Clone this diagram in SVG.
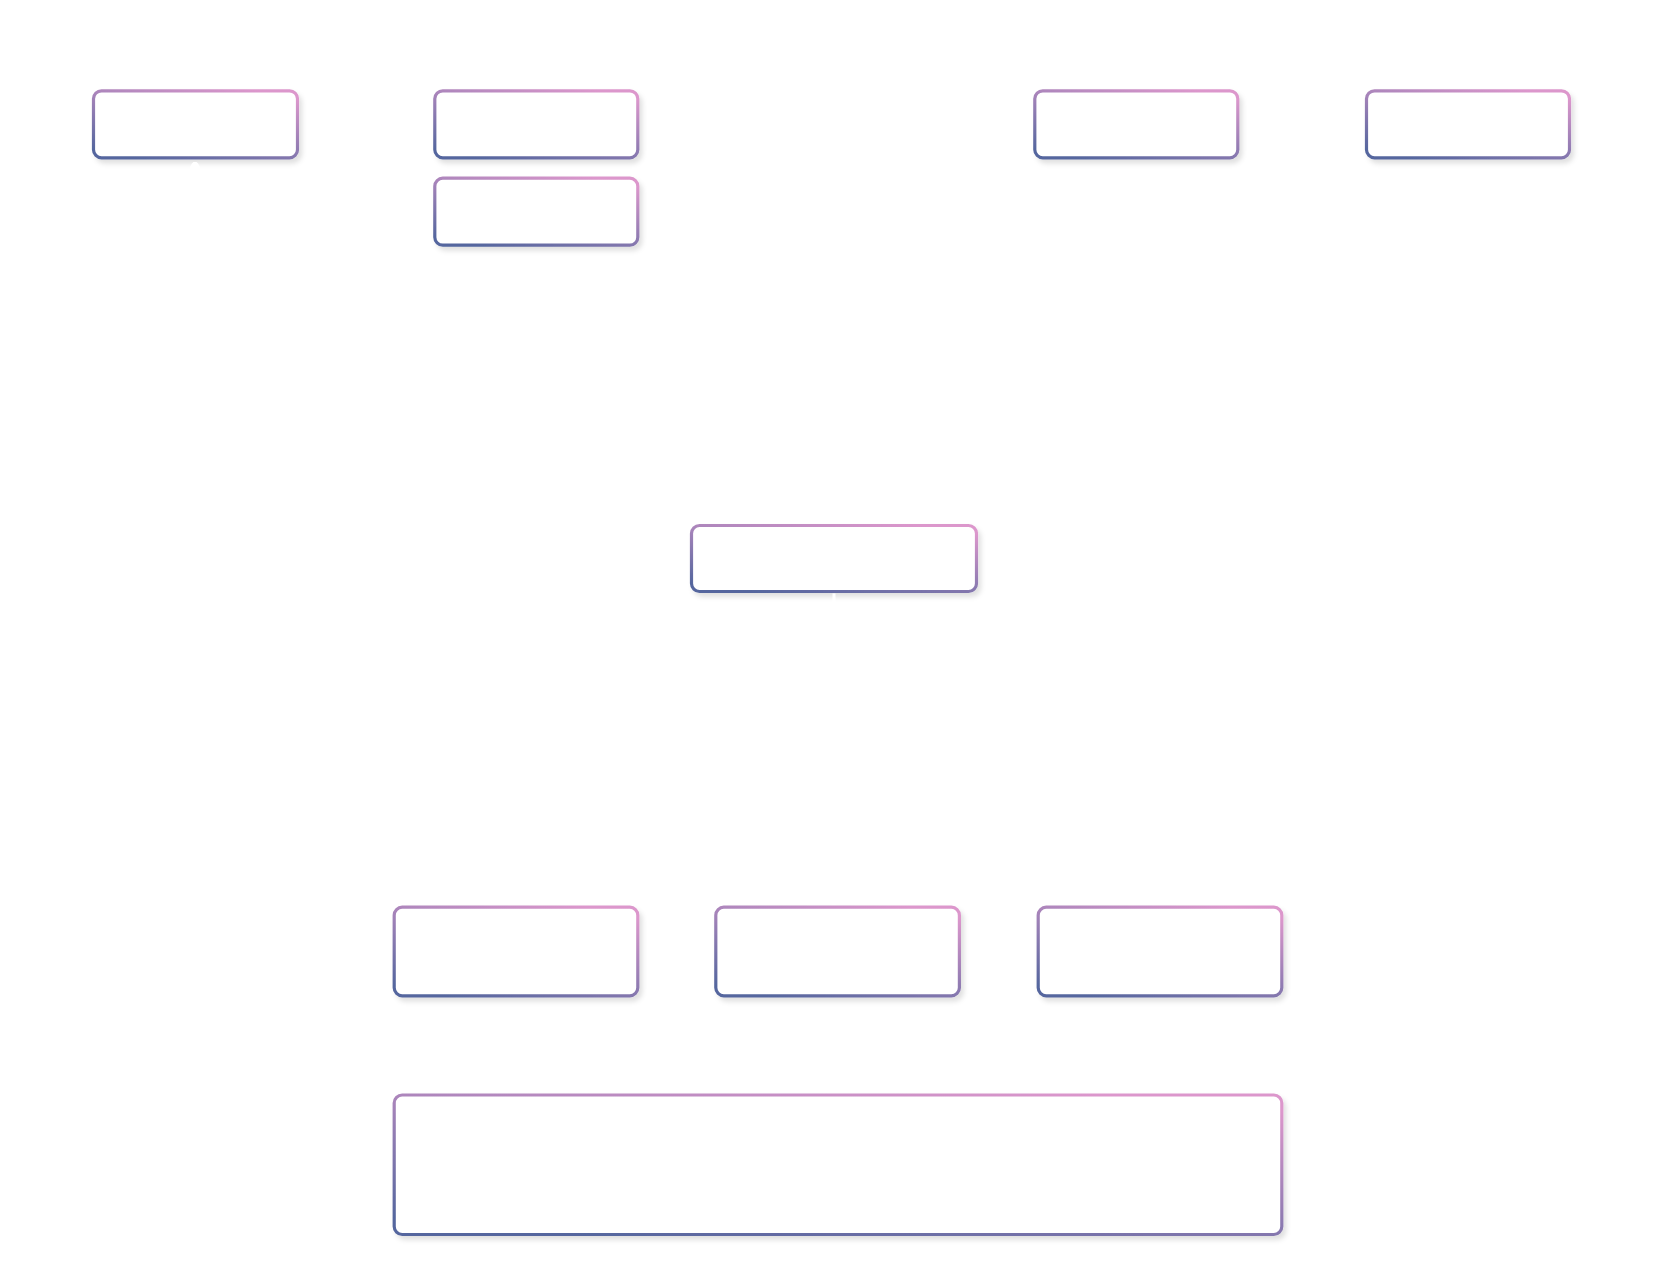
<svg xmlns="http://www.w3.org/2000/svg" width="1669" height="1276" viewBox="0 0 1669 1276">
  <defs>
    <linearGradient id="g" x1="0.2" y1="1" x2="0.8" y2="0">
      <stop offset="0" stop-color="#55669e"/>
      <stop offset="1" stop-color="#dc97cc"/>
    </linearGradient>
    <filter id="sh" x="-10%" y="-20%" width="125%" height="150%">
      <feDropShadow dx="3" dy="4" stdDeviation="2.5" flood-color="#000000" flood-opacity="0.12"/>
    </filter>
    <marker id="arr" viewBox="0 0 10 10" refX="9" refY="5" markerWidth="5" markerHeight="5" orient="auto-start-reverse">
      <path d="M0,0 Q10,2 10,5 Q10,8 0,10 Z" fill="#ffffff"/>
    </marker>
  </defs>
  <style>
    .node { fill: #ffffff; stroke: url(#g); stroke-width: 3.2; filter: url(#sh); }
    .conn { fill: none; stroke: #ffffff; stroke-width: 3; }
  </style>
  <rect width="1669" height="1276" fill="#ffffff"/>
  <g id="nodes">
    <g id="n1"><rect class="node" x="93.5" y="90.8" width="204" height="67" rx="8"/></g>
    <g id="n2"><rect class="node" x="434.8" y="90.8" width="203" height="67" rx="8"/></g>
    <g id="n3"><rect class="node" x="434.8" y="178.2" width="203" height="67" rx="8"/></g>
    <g id="n4"><rect class="node" x="1034.8" y="90.8" width="203" height="67" rx="8"/></g>
    <g id="n5"><rect class="node" x="1366.5" y="90.8" width="203" height="67" rx="8"/></g>
    <g id="n6"><rect class="node" x="691.5" y="525.5" width="285" height="66" rx="8"/></g>
    <g id="n7"><rect class="node" x="394.2" y="907.2" width="243.6" height="88.6" rx="8"/></g>
    <g id="n8"><rect class="node" x="715.8" y="907.2" width="243.6" height="88.6" rx="8"/></g>
    <g id="n9"><rect class="node" x="1038.2" y="907.2" width="243.6" height="88.6" rx="8"/></g>
    <g id="n10"><rect class="node" x="394.2" y="1095" width="887.6" height="139.5" rx="8"/></g>
  </g>
  <g id="connectors">
    <path class="conn" d="M834,593.5 L834,905"/>
    <path class="conn" d="M687,558 L195,320 L195,163" marker-end="url(#arr)"/>
  </g>
</svg>
